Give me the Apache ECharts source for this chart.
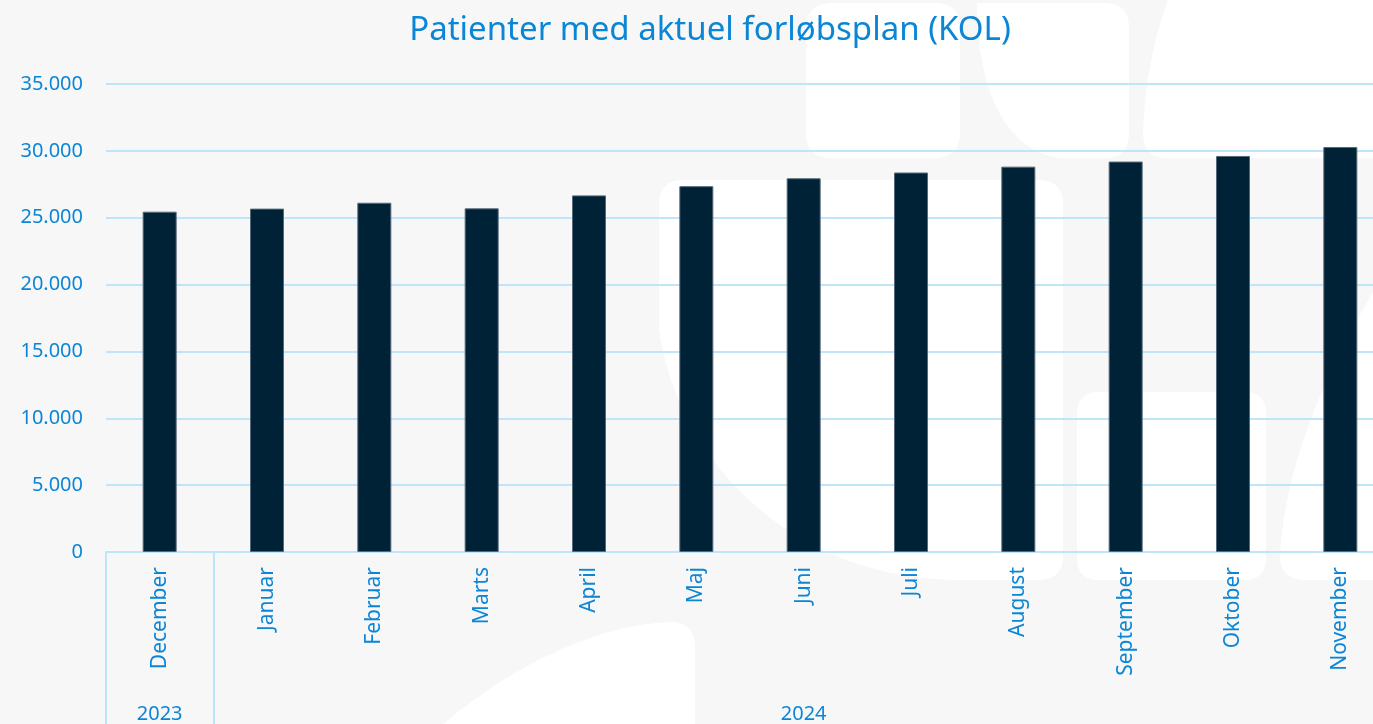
<!DOCTYPE html>
<html>
<head>
<meta charset="utf-8">
<script src="https://cdn.jsdelivr.net/npm/echarts@6/dist/echarts.min.js"></script>
<style>
html,body{margin:0;padding:0;background:#f7f7f7;overflow:hidden;width:1373px;height:724px;}
#chart{width:1400px;height:724px;}
</style>
</head>
<body>
<div id="chart"></div>
<script>
var title = 'Patienter med aktuel forløbsplan (KOL)';
var months = ['December','Januar','Februar','Marts','April','Maj','Juni','Juli','August','September','Oktober','November'];
var values = [25450, 25680, 26120, 25700, 26670, 27360, 27950, 28380, 28820, 29200, 29620, 30290];
var years = ['2023', '2024'];
var yearSpans = [1, 11];
var yTicks = [0, 5000, 10000, 15000, 20000, 25000, 30000, 35000];

var BLUE = '#0b86d7';
var GRID = '#bfe5fa';

// year group boundaries and centers (in category units)
var bounds = [0], centers = [], acc = 0;
yearSpans.forEach(function (n) { centers.push(acc + n / 2); acc += n; bounds.push(acc); });
var yearByCenter = {};
centers.forEach(function (c, i) { yearByCenter[c] = years[i]; });

function fmtThousands(v) {
  return String(v).replace(/\B(?=(\d{3})+(?!\d))/g, '.');
}

// decorative watermark: sample simple path strings into polygons
function pathToPoints(d) {
  var tok = d.trim().split(/\s+/), i = 0, pts = [], cx = 0, cy = 0, N = 16;
  function num() { return parseFloat(tok[i++]); }
  while (i < tok.length) {
    var c = tok[i++];
    if (c === 'M' || c === 'L') { cx = num(); cy = num(); pts.push([cx, cy]); }
    else if (c === 'Q') {
      var qx = num(), qy = num(), ex = num(), ey = num();
      for (var k = 1; k <= N; k++) { var t = k / N, u = 1 - t;
        pts.push([u*u*cx + 2*u*t*qx + t*t*ex, u*u*cy + 2*u*t*qy + t*t*ey]); }
      cx = ex; cy = ey;
    } else if (c === 'C') {
      var ax = num(), ay = num(), bx = num(), by = num(), ex2 = num(), ey2 = num();
      for (var k2 = 1; k2 <= N * 2; k2++) { var t2 = k2 / (N * 2), u2 = 1 - t2;
        pts.push([u2*u2*u2*cx + 3*u2*u2*t2*ax + 3*u2*t2*t2*bx + t2*t2*t2*ex2,
                  u2*u2*u2*cy + 3*u2*u2*t2*ay + 3*u2*t2*t2*by + t2*t2*t2*ey2]); }
      cx = ex2; cy = ey2;
    }
  }
  return pts;
}
var watermark = [
  'M 806 30 Q 806 3 833 3 L 935 3 Q 960 3 960 28 L 960 133 Q 960 158 935 158 L 831 158 Q 806 158 806 133 Z',
  'M 977 3 L 1104 3 Q 1129 3 1129 28 L 1129 133 Q 1129 158 1104 158 L 1060 158 C 1000 150 977 80 977 3 Z',
  'M 1168 0 L 1400 0 L 1400 158 L 1168 158 Q 1143 158 1143 133 C 1145 80 1155 35 1168 0 Z',
  'M 659 205 Q 659 180 684 180 L 1038 180 Q 1063 180 1063 205 L 1063 555 Q 1063 580 1038 580 L 960 580 C 800 580 680 470 659 330 Z',
  'M 1077 414 Q 1077 392 1099 392 L 1244 392 Q 1266 392 1266 414 L 1266 558 Q 1266 580 1244 580 L 1099 580 Q 1077 580 1077 558 Z',
  'M 1380 280 C 1320 380 1285 470 1280 555 Q 1280 580 1305 580 L 1400 580 L 1400 280 Z',
  'M 443 724 C 520 660 600 625 670 622 Q 695 622 695 647 L 695 724 Z'
];
var graphics = watermark.map(function (d) {
  return { type: 'polygon', z: -10, silent: true, shape: { points: pathToPoints(d) }, style: { fill: '#ffffff' } };
});

var chart = echarts.init(document.getElementById('chart'));
chart.setOption({
  backgroundColor: '#f7f7f7',
  animation: false,
  graphic: graphics,
  title: {
    text: title,
    left: 705,
    top: 9,
    textAlign: 'center',
    textStyle: { color: BLUE, fontSize: 33, fontWeight: 'normal', fontFamily: 'Noto Sans' }
  },
  grid: { left: 106, top: 84, width: 1288, height: 470, containLabel: false },
  xAxis: [
    {
      type: 'category',
      data: months,
      position: 'bottom',
      axisLine: { show: true, lineStyle: { color: GRID, width: 2 } },
      axisTick: { show: false },
      axisLabel: { rotate: 90, color: BLUE, fontSize: 21, fontFamily: 'Noto Sans', margin: 15, interval: 0 }
    },
    {
      type: 'value',
      min: 0,
      max: months.length,
      position: 'bottom',
      splitLine: { show: false },
      axisLine: { show: false },
      axisTick: { show: true, customValues: bounds, length: 172, lineStyle: { color: GRID, width: 2 } },
      axisLabel: {
        show: true,
        customValues: centers,
        color: BLUE, fontSize: 20, fontFamily: 'Noto Sans',
        margin: 152,
        formatter: function (v) { return yearByCenter[v] || ''; }
      }
    }
  ],
  yAxis: {
    type: 'value',
    min: 0,
    max: 35000,
    interval: 5000,
    axisLine: { show: false },
    axisTick: { show: false },
    splitLine: { show: true, lineStyle: { color: GRID, width: 2 } },
    axisLabel: {
      color: BLUE, fontSize: 20, fontFamily: 'Noto Sans', margin: 23,
      formatter: function (v) { return fmtThousands(v); }
    }
  },
  series: [{
    type: 'bar',
    data: values,
    xAxisIndex: 0,
    barWidth: 34,
    itemStyle: { color: '#002236', borderColor: '#56697a', borderWidth: 1 }
  }]
});
</script>
</body>
</html>
